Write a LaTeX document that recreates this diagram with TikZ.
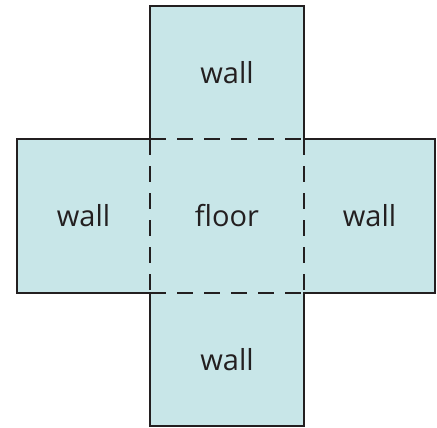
\documentclass[tikz,border=0pt]{standalone}
\usepackage{fontspec}
\setmainfont{Open Sans}
\definecolor{panelfill}{HTML}{C8E6E8}
\definecolor{edgeink}{HTML}{231F20}
\begin{document}
\begin{tikzpicture}[x=1pt, y=-1pt,
  panel/.style={fill=panelfill, draw=none, inner sep=0pt, outer sep=0pt,
    text=edgeink, font=\fontsize{29}{35}\selectfont},
  outline/.style={draw=edgeink, line width=2.3pt, line join=miter},
  fold/.style={draw=edgeink, line width=2.3pt, dash pattern=on 16pt off 11pt}]
\useasboundingbox (0,0) rectangle (437,428);
% the five faces of the unfolded box
\node[panel, minimum width=154pt, minimum height=154pt] (floor) at (227,216) {floor};
\node[panel, minimum width=154pt, minimum height=133pt] (top) at (227,72.5) {wall};
\node[panel, minimum width=154pt, minimum height=133pt] (bottom) at (227,359.5) {wall};
\node[panel, minimum width=133pt, minimum height=154pt] (left) at (83.5,216) {wall};
\node[panel, minimum width=131pt, minimum height=154pt] (right) at (369.5,216) {wall};
% cut line round the whole net
\draw[outline] (top.north west) -- (top.north east) -- (top.south east)
  -- (right.north east) -- (right.south east) -- (bottom.north east)
  -- (bottom.south east) -- (bottom.south west) -- (bottom.north west)
  -- (left.south west) -- (left.north west) -- (top.south west) -- cycle;
% fold lines round the floor
\draw[fold] (floor.north west) -- (floor.north east);
\draw[fold] (floor.north east) -- (floor.south east);
\draw[fold] (floor.south west) -- (floor.south east);
\draw[fold] (floor.north west) -- (floor.south west);
\end{tikzpicture}
\end{document}
